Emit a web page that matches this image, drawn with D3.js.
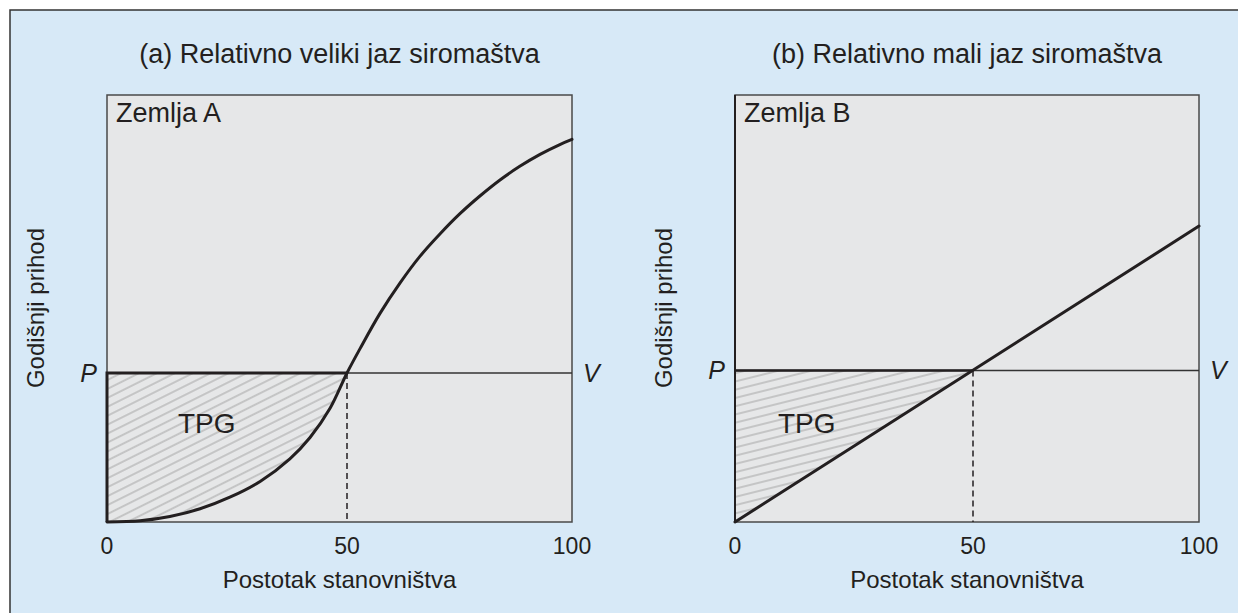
<!DOCTYPE html>
<html>
<head>
<meta charset="utf-8">
<script src="https://cdn.jsdelivr.net/npm/d3@7"></script>
<style>
  html, body { margin: 0; padding: 0; background: #fff; }
  svg text { font-family: 'Liberation Sans', Arial, sans-serif; fill: #231f20; }
</style>
</head>
<body>
<svg id="chart"></svg>
<script>
// population share (x) and annual income (y)
const xTicks = [0, 50, 100];
const titles = ['(a) Relativno veliki jaz siromaštva', '(b) Relativno mali jaz siromaštva'];
const countries = ['Zemlja A', 'Zemlja B'];

// country A: S-shaped income curve
const curveAx = [0, 6.9, 13.1, 19.4, 25.6, 31.9, 38.1, 42.3, 46.5, 50,
  52.9, 57.3, 61.8, 66.2, 70.7, 75.1, 79.6, 84.0, 88.4, 92.9, 97.3, 100];
const curveAy = [0, 0.3, 1.3, 3.1, 5.8, 9.5, 14.8, 19.8, 26.7, 34.9,
  40.6, 48.8, 56.0, 62.2, 67.5, 72.2, 76.4, 80.1, 83.3, 86.1, 88.4, 89.6];

// country B: straight income line
const lineBx = [0, 100];
const lineBy = [0, 69.3];

// poverty line P for each panel
const povertyLine = [34.9, 35.5];

const width = 1238;
const height = 613;
const ink = '#231f20';

const svg = d3.select('#chart')
  .attr('width', width)
  .attr('height', height);

svg.append('rect')
  .attr('x', 10).attr('y', 10)
  .attr('width', width + 20).attr('height', height + 20)
  .attr('fill', '#d7e9f7')
  .attr('stroke', '#333')
  .attr('stroke-width', 1.5);

// hatch patterns
const defs = svg.append('defs');
function hatch(id, angle, gap) {
  const p = defs.append('pattern')
    .attr('id', id)
    .attr('patternUnits', 'userSpaceOnUse')
    .attr('width', 20)
    .attr('height', gap)
    .attr('patternTransform', `rotate(${angle})`);
  p.append('line')
    .attr('x1', 0).attr('x2', 20)
    .attr('y1', gap / 2).attr('y2', gap / 2)
    .attr('stroke', '#a3a3a3')
    .attr('stroke-width', 1);
}
hatch('hatchA', -26.5, 8);
hatch('hatchB', -14, 8);

const panels = [
  { left: 107, right: 572, mid: 347, hatchId: 'hatchA',
    xs: curveAx, ys: curveAy, curved: true },
  { left: 735, right: 1199, mid: 973, hatchId: 'hatchB',
    xs: lineBx, ys: lineBy, curved: false }
];

const plotTop = 95, plotBottom = 522;
const smooth = d3.curveCatmullRom.alpha(0.5);

panels.forEach((cfg, i) => {
  const P = povertyLine[i];
  const x = d3.scaleLinear().domain([0, 50, 100]).range([cfg.left, cfg.mid, cfg.right]);
  const y = d3.scaleLinear().domain([0, 100]).range([plotBottom, plotTop]);
  const g = svg.append('g');
  const cx = (cfg.left + cfg.right) / 2;

  // title
  g.append('text')
    .attr('x', cx).attr('y', 63)
    .attr('text-anchor', 'middle')
    .style('font-size', '27px')
    .text(titles[i]);

  // plot background
  g.append('rect')
    .attr('x', cfg.left).attr('y', plotTop)
    .attr('width', cfg.right - cfg.left).attr('height', plotBottom - plotTop)
    .attr('fill', '#e6e7e8');

  const pts = cfg.xs.map((d, k) => [d, cfg.ys[k]]);

  // TPG hatched region
  if (cfg.curved) {
    const under = pts.filter(d => d[0] <= 50);
    const area = d3.area()
      .x(d => x(d[0]))
      .y0(d => y(d[1]))
      .y1(y(P))
      .curve(smooth);
    g.append('path')
      .datum(under)
      .attr('d', area)
      .attr('fill', `url(#${cfg.hatchId})`);
  } else {
    g.append('path')
      .datum([[0, 0], [0, P], [50, P]])
      .attr('d', d3.line().x(d => x(d[0])).y(d => y(d[1])))
      .attr('fill', `url(#${cfg.hatchId})`);
  }

  // frame
  g.append('rect')
    .attr('x', cfg.left).attr('y', plotTop)
    .attr('width', cfg.right - cfg.left).attr('height', plotBottom - plotTop)
    .attr('fill', 'none')
    .attr('stroke', '#4a4a4a')
    .attr('stroke-width', 1.5);

  // poverty line across the panel
  g.append('line')
    .attr('x1', x(0)).attr('x2', x(100))
    .attr('y1', y(P)).attr('y2', y(P))
    .attr('stroke', '#333')
    .attr('stroke-width', 1.5);

  // dashed drop at 50 %
  g.append('line')
    .attr('x1', x(50)).attr('x2', x(50))
    .attr('y1', y(P)).attr('y2', y(0))
    .attr('stroke', ink)
    .attr('stroke-width', 1.5)
    .attr('stroke-dasharray', '6,4');

  // bold outline of the gap
  g.append('path')
    .datum(cfg.curved ? [[0, 0], [0, P], [50, P]] : [[0, P], [50, P]])
    .attr('d', d3.line().x(d => x(d[0])).y(d => y(d[1])))
    .attr('fill', 'none')
    .attr('stroke', ink)
    .attr('stroke-width', cfg.curved ? 3 : 2.5);

  if (!cfg.curved) {
    g.append('line')
      .attr('x1', x(0)).attr('x2', x(0))
      .attr('y1', y(0)).attr('y2', plotTop)
      .attr('stroke', ink)
      .attr('stroke-width', 2);
  }

  // income curve / line
  g.append('path')
    .datum(pts)
    .attr('d', d3.line()
      .x(d => x(d[0]))
      .y(d => y(d[1]))
      .curve(cfg.curved ? smooth : d3.curveLinear))
    .attr('fill', 'none')
    .attr('stroke', ink)
    .attr('stroke-width', 3)
    .attr('stroke-linecap', 'round');

  // labels inside
  g.append('text')
    .attr('x', cfg.left + 9).attr('y', 122)
    .style('font-size', '27px')
    .text(countries[i]);

  g.append('text')
    .attr('x', cfg.left + (i === 0 ? 71 : 43)).attr('y', 433)
    .style('font-size', '28px')
    .text('TPG');

  // P and V
  g.append('text')
    .attr('x', cfg.left - 10).attr('y', y(P) + 9)
    .attr('text-anchor', 'end')
    .style('font-size', '25px')
    .style('font-style', 'italic')
    .text('P');

  g.append('text')
    .attr('x', cfg.right + 11).attr('y', y(P) + 9)
    .style('font-size', '25px')
    .style('font-style', 'italic')
    .text('V');

  // x ticks
  g.selectAll('.tick')
    .data(xTicks)
    .join('text')
    .attr('class', 'tick')
    .attr('x', d => x(d))
    .attr('y', 554)
    .attr('text-anchor', 'middle')
    .style('font-size', '23px')
    .text(d => d);

  g.append('text')
    .attr('x', cx).attr('y', 588)
    .attr('text-anchor', 'middle')
    .style('font-size', '24px')
    .text('Postotak stanovništva');

  g.append('text')
    .attr('transform', `translate(${cfg.left - 63},308) rotate(-90)`)
    .attr('text-anchor', 'middle')
    .style('font-size', '24px')
    .text('Godišnji prihod');
});
</script>
</body>
</html>
